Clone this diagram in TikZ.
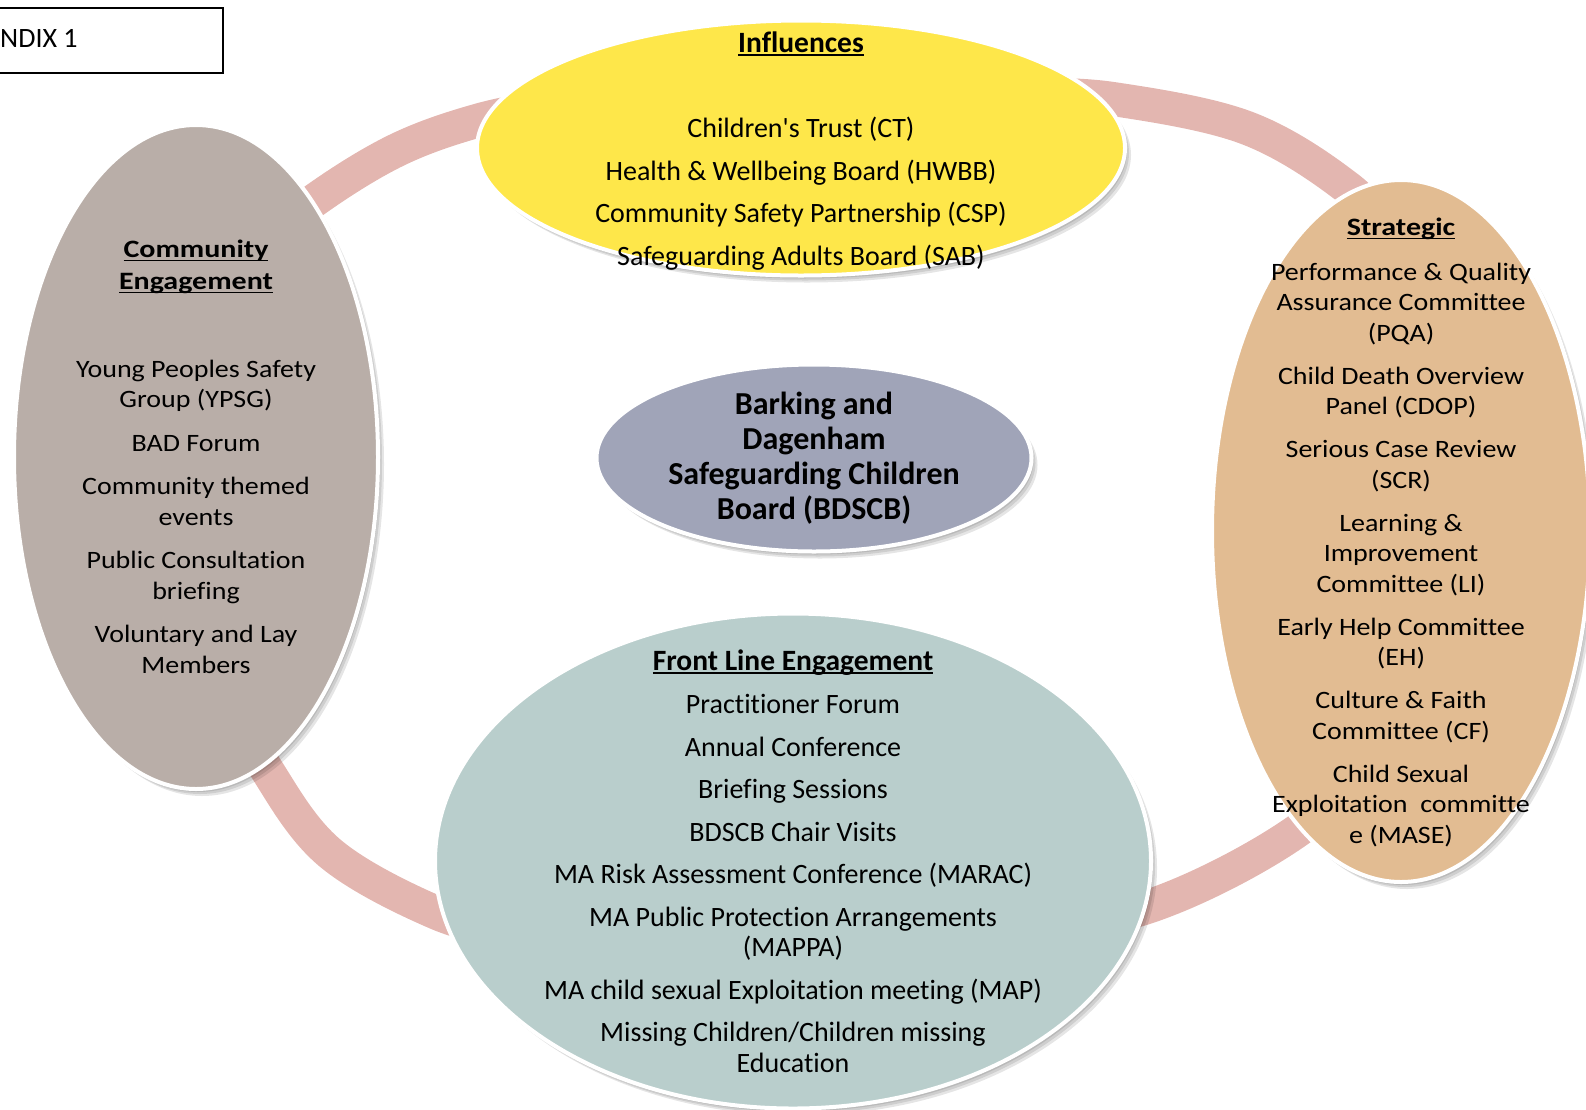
\documentclass[tikz,border=0pt]{standalone}
\usepackage{fontspec}
\setmainfont{Carlito}[Ligatures={NoCommon}]
\newfontfamily\widefont[FakeStretch=1.12,Ligatures={NoCommon}]{Carlito}
\newfontfamily\widebold[FakeStretch=1.2,Ligatures={NoCommon}]{Carlito Bold}
\usetikzlibrary{shapes.geometric,shadows}
\definecolor{ringc}{RGB}{227,182,176}
\definecolor{yelc}{RGB}{254,231,74}
\definecolor{commc}{RGB}{185,174,168}
\definecolor{stratc}{RGB}{226,188,146}
\definecolor{boardc}{RGB}{160,164,184}
\definecolor{frontc}{RGB}{185,206,204}
\newcommand\myul[1]{\setbox0=\hbox{#1}\rlap{\rule[-3.5pt]{\wd0}{1.8pt}}\box0}
\newcommand\bighead[1]{\myul{\fontsize{29.5}{30}\selectfont\bfseries #1}}
\newcommand\widehead[1]{\myul{\widebold #1}}
\tikzset{
  blob/.style={ellipse, draw=white, line width=4pt, inner sep=0pt,
    drop shadow={opacity=0.10, shadow xshift=2pt, shadow yshift=-3pt, fill=black},
    drop shadow={opacity=0.10, shadow xshift=4pt, shadow yshift=-5pt, fill=black},
    drop shadow={opacity=0.10, shadow xshift=6pt, shadow yshift=-7pt, fill=black}},
  txt/.style={align=center, inner sep=0pt, text=black},
  ringline/.style={draw=ringc, line width=34pt}
}
\begin{document}
\begin{tikzpicture}[x=1pt,y=-1pt]
\useasboundingbox (0,0) rectangle (1586,1109);
% ring segments (ends hidden under the ellipses)
\draw[ringline] plot[smooth, tension=0.6] coordinates {
 (255,251) (315,200) (397,150) (480,120) (560,104)};
\draw[ringline] plot[smooth, tension=0.6] coordinates {
 (1030,95) (1113,99) (1247,128) (1348,188) (1400,245)};
\draw[ringline] plot[smooth, tension=0.6] coordinates {
 (235,705) (267,770) (330,853) (437,913) (520,935)};
\draw[ringline] plot[smooth, tension=0.6] coordinates {
 (1070,928) (1153,905) (1228,872) (1297,831) (1345,790)};
% appendix box
\node (appx) [draw=black, line width=1.8pt, minimum width=242pt, minimum height=65pt,
  inner sep=0pt, anchor=north west] at (-20,7) {};
\node (appxT) [anchor=base west, inner sep=0pt, font=\fontsize{28}{30}\selectfont] at (0,47.5) {NDIX 1};
% ellipses
\node (infl) [blob, fill=yelc, minimum width=648pt, minimum height=255pt] at (801,148) {};
\node (comm) [blob, fill=commc, minimum width=364pt, minimum height=664pt] at (196,457) {};
\node (strat) [blob, fill=stratc, minimum width=378pt, minimum height=702pt] at (1401,531) {};
\node (board) [blob, fill=boardc, minimum width=435pt, minimum height=187pt] at (814,458) {};
\node (front) [blob, fill=frontc, minimum width=716pt, minimum height=495pt] at (793,861) {};
% texts
\node (inflT) [txt, font=\fontsize{28}{42.5}\selectfont] at ([yshift=-3pt]infl.center) {
  \bighead{Influences}\\[42.5pt]
  Children\textquotesingle s Trust (CT)\\
  Health \& Wellbeing Board (HWBB)\\
  Community Safety Partnership (CSP)\\
  Safeguarding Adults Board (SAB)};
\node (commT) [txt, font=\widefont\fontsize{25}{30.5}\selectfont] at (comm) {
  \widehead{Community}\\[1.5pt]
  \widehead{Engagement}\\[57pt]
  Young Peoples Safety\\Group (YPSG)\\[13pt]
  BAD Forum\\[13pt]
  Community themed\\events\\[13pt]
  Public Consultation\\briefing\\[13pt]
  Voluntary and Lay\\Members};
\node (stratT) [txt, font=\widefont\fontsize{25}{30.5}\selectfont] at ([yshift=-1.5pt]strat.center) {
  \widehead{Strategic}\\[14pt]
  Performance \& Quality\\Assurance Committee\\(PQA)\\[12.5pt]
  Child Death Overview\\Panel (CDOP)\\[12.5pt]
  Serious Case Review\\(SCR)\\[12.5pt]
  Learning \&\\Improvement\\Committee (LI)\\[12.5pt]
  Early Help Committee\\(EH)\\[12.5pt]
  Culture \& Faith\\Committee (CF)\\[12.5pt]
  Child Sexual\\Exploitation\ \ committe\\e (MASE)};
\node (boardT) [txt, font=\fontsize{32}{35}\selectfont\bfseries] at (board) {
  Barking and\\Dagenham\\Safeguarding Children\\Board (BDSCB)};
\node (frontT) [txt, font=\fontsize{28}{30.5}\selectfont] at (front) {
  \bighead{Front Line Engagement}\\[13pt]
  Practitioner Forum\\[12pt]
  Annual Conference\\[12pt]
  Briefing Sessions\\[12pt]
  BDSCB Chair Visits\\[12pt]
  MA Risk Assessment Conference (MARAC)\\[12pt]
  MA Public Protection Arrangements\\(MAPPA)\\[12pt]
  MA child sexual Exploitation meeting (MAP)\\[12pt]
  Missing Children/Children missing\\Education};
\end{tikzpicture}
\end{document}
